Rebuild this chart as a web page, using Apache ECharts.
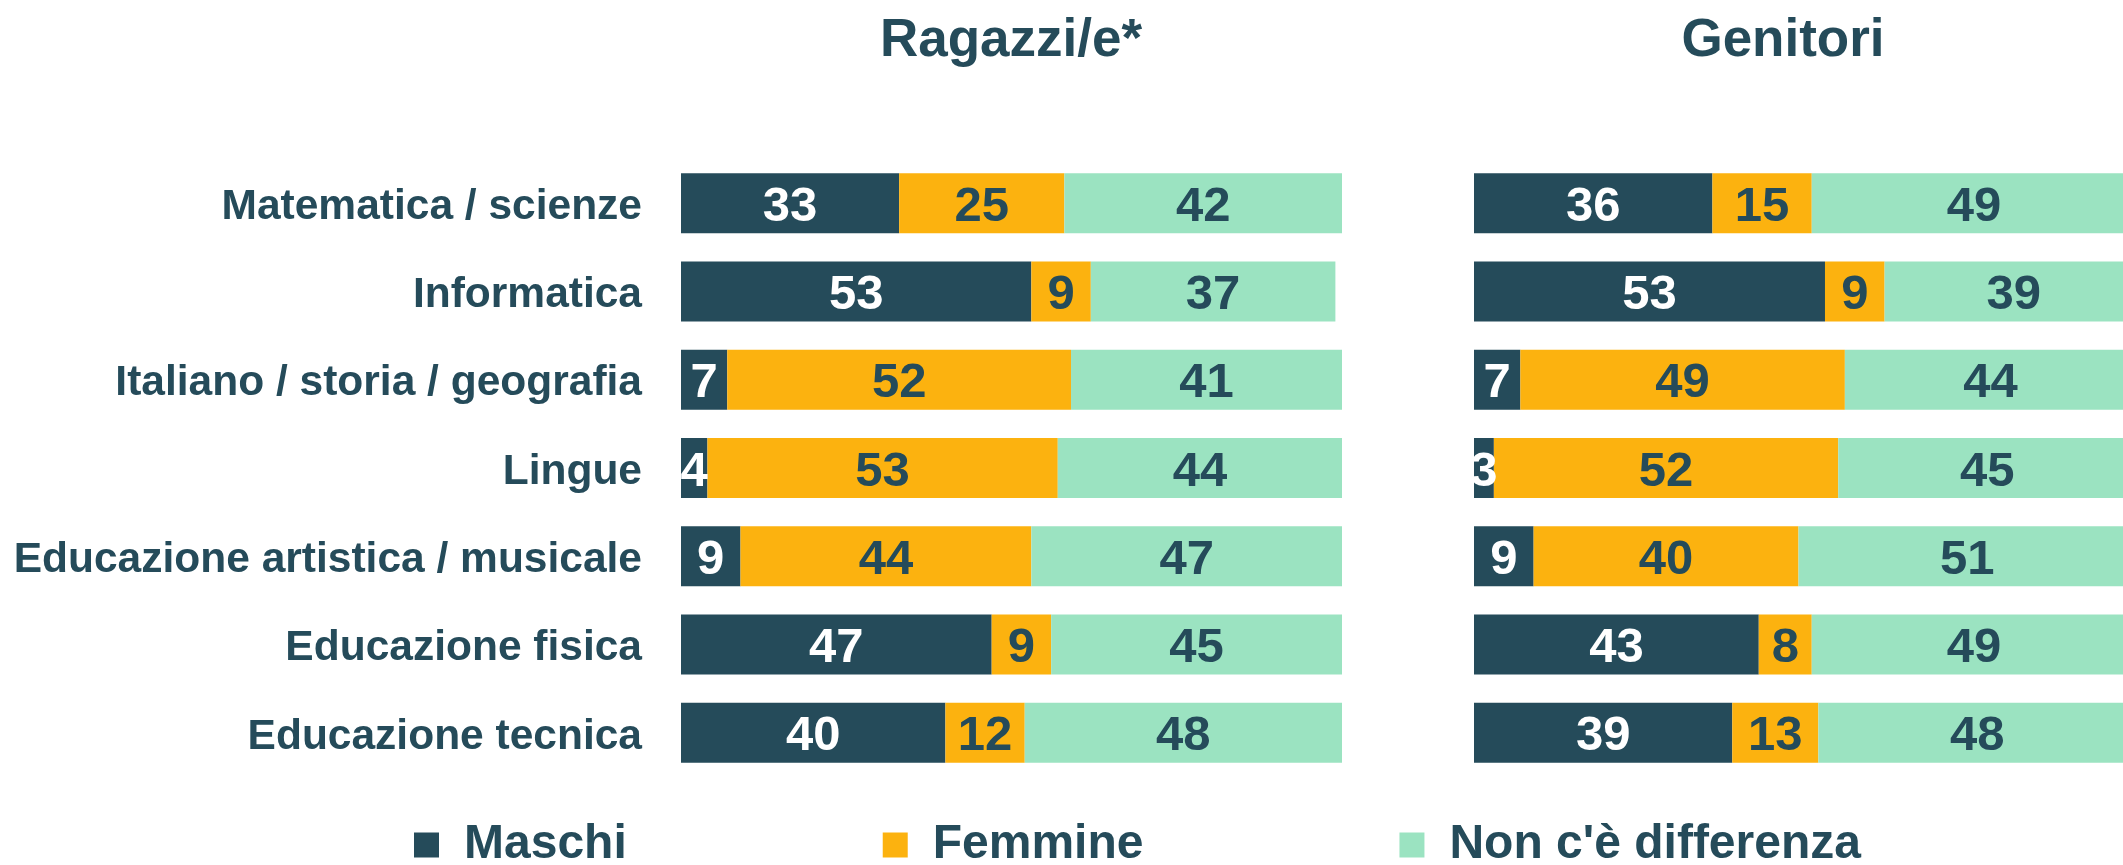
<!DOCTYPE html>
<html>
<head>
<meta charset="utf-8">
<script src="https://cdn.jsdelivr.net/npm/echarts@6/dist/echarts.min.js"></script>
<style>
  html, body { margin: 0; padding: 0; background: #fff; }
  #chart { width: 2123px; height: 865px; }
</style>
</head>
<body>
<div id="chart"></div>
<script>
// materie
var categories = ['Matematica / scienze', 'Informatica', 'Italiano / storia / geografia', 'Lingue',
    'Educazione artistica / musicale', 'Educazione fisica', 'Educazione tecnica'];
var seriesNames = ['Maschi', 'Femmine', "Non c'è differenza"];
var panelTitles = ['Ragazzi/e*', 'Genitori'];

// Ragazzi/e
var ragMaschi = [33, 53, 7, 4, 9, 47, 40];
var ragFemmine = [25, 9, 52, 53, 44, 9, 12];
var ragNessuna = [42, 37, 41, 44, 47, 45, 48];

// Genitori
var genMaschi = [36, 53, 7, 3, 9, 43, 39];
var genFemmine = [15, 9, 49, 52, 40, 8, 13];
var genNessuna = [49, 39, 44, 45, 51, 49, 48];

var dark = '#254b5a';
var colors = ['#254b5a', '#fcb20f', '#9be3c1'];
var labelColors = ['#ffffff', dark, dark];
var font = '"Liberation Sans", Arial, sans-serif';

function makeSeries(name, data, idx, gridIdx) {
    return {
        name: name,
        type: 'bar',
        stack: 'tot' + gridIdx,
        xAxisIndex: gridIdx,
        yAxisIndex: gridIdx,
        barWidth: 60,
        clip: gridIdx == 0, // il pannello genitori esce dal bordo destro
        data: data,
        itemStyle: { color: colors[idx] },
        label: {
            show: true,
            position: 'inside',
            offset: [0, 4],
            color: labelColors[idx],
            fontFamily: font,
            fontWeight: 'bold',
            fontSize: 49
        },
        emphasis: { disabled: true },
        animation: false
    };
}

var chart = echarts.init(document.getElementById('chart'));
var option = {
    backgroundColor: '#fff',
    title: [{
        text: panelTitles[0],
        left: 1011,
        top: 15,
        padding: 0,
        textAlign: 'center',
        textStyle: { color: dark, fontFamily: font, fontWeight: 'bold', fontSize: 53 }
    }, {
        text: panelTitles[1],
        left: 1783,
        top: 15,
        padding: 0,
        textAlign: 'center',
        textStyle: { color: dark, fontFamily: font, fontWeight: 'bold', fontSize: 53 }
    }],
    legend: {
        data: seriesNames,
        left: 409,
        top: 816,
        itemWidth: 25,
        itemHeight: 25,
        itemGap: 256,
        icon: 'rect',
        textStyle: { color: dark, fontFamily: font, fontWeight: 'bold', fontSize: 48, padding: [0, 0, 0, 20] }
    },
    grid: [
        { left: 681, width: 661, top: 159, height: 618 },
        { left: 1474, right: 0, top: 159, height: 618 }
    ],
    xAxis: [
        { gridIndex: 0, type: 'value', min: 0, max: 100, show: false },
        { gridIndex: 1, type: 'value', min: 0, max: 98, show: false }
    ],
    yAxis: [{
        gridIndex: 0,
        type: 'category',
        inverse: true,
        data: categories,
        axisLine: { show: false },
        axisTick: { show: false },
        axisLabel: {
            color: dark, fontFamily: font, fontWeight: 'bold', fontSize: 42.5, margin: 39,
            verticalAlign: 'top', lineHeight: 8
        }
    }, {
        gridIndex: 1,
        type: 'category',
        inverse: true,
        data: categories,
        axisLine: { show: false },
        axisTick: { show: false },
        axisLabel: { show: false }
    }],
    series: [
        makeSeries(seriesNames[0], ragMaschi, 0, 0),
        makeSeries(seriesNames[1], ragFemmine, 1, 0),
        makeSeries(seriesNames[2], ragNessuna, 2, 0),
        makeSeries(seriesNames[0], genMaschi, 0, 1),
        makeSeries(seriesNames[1], genFemmine, 1, 1),
        makeSeries(seriesNames[2], genNessuna, 2, 1)
    ]
};
chart.setOption(option);
</script>
</body>
</html>
